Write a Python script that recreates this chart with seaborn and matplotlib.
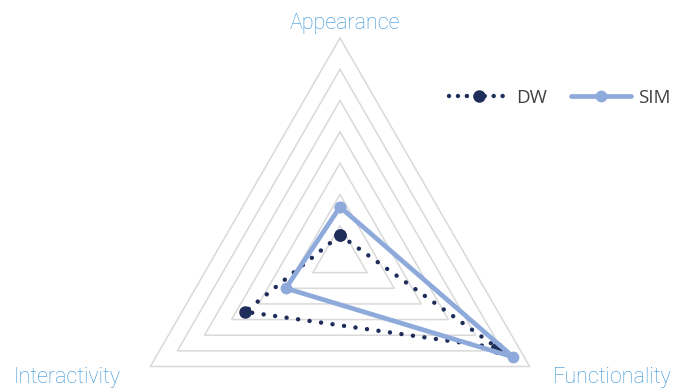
#!/usr/bin/env python3
"""radar chart: DW vs SIM"""

import numpy as np
import pandas as pd
import seaborn as sns
import matplotlib
matplotlib.use("Agg")
import matplotlib.pyplot as plt
from matplotlib.lines import Line2D

categories = ["Appearance", "Functionality", "Interactivity"]
dw_values = [0.7, 5.8, 3.5]
sim_values = [1.6, 6.4, 2.0]
grid_levels = [1, 2, 3, 4, 5, 6, 7]

DW_COLOR = "#1f2d5a"
SIM_COLOR = "#8eaadb"
LABEL_COLOR = "#3593d8"
GRID_COLOR = "#d9d9d9"

sns.set_theme(style="white")
plt.rcParams["font.family"] = ["Roboto", "DejaVu Sans"]

theta = np.linspace(0, 2 * np.pi, len(categories), endpoint=False)
theta_closed = np.append(theta, theta[0])


def closed(vals):
    return np.append(vals, vals[0])


df = pd.concat([
    pd.DataFrame({"theta": theta_closed, "value": closed(dw_values),
                  "series": "DW"}),
    pd.DataFrame({"theta": theta_closed, "value": closed(sim_values),
                  "series": "SIM"}),
])

fig = plt.figure(figsize=(6.76, 3.88), dpi=100)
W, H = 676, 388
cx, cy, R = 340, 257, 219
ax = fig.add_axes([(cx - R) / W, (H - cy - R) / H, 2 * R / W, 2 * R / H],
                  projection="polar")
ax.set_theta_offset(np.pi / 2)
ax.set_theta_direction(-1)
ax.grid(False)
ax.spines["polar"].set_visible(False)
ax.patch.set_visible(False)

# triangular grid
for lev in grid_levels:
    ax.plot(theta_closed, [lev] * 4, color=GRID_COLOR, lw=1.1,
            clip_on=False, zorder=1)

sns.lineplot(data=df[df.series == "DW"], x="theta", y="value", sort=False,
             estimator=None, color=DW_COLOR, lw=3.2, marker="o",
             markersize=9, markeredgewidth=0, ax=ax, zorder=3)
line_dw = ax.get_lines()[-1]
line_dw.set_linestyle((0, (0.01, 2.6)))
line_dw.set_dash_capstyle("round")
sns.lineplot(data=df[df.series == "SIM"], x="theta", y="value", sort=False,
             estimator=None, color=SIM_COLOR, lw=3.4, marker="o",
             markersize=8.5, markeredgewidth=0, ax=ax, zorder=4)
for ln in ax.get_lines()[-2:]:
    ln.set_clip_on(False)
ax.set_xlabel("")
ax.set_ylabel("")
ax.set_xticks([])
ax.set_yticks([])
ax.set_ylim(0, grid_levels[-1])

# axis labels
label_kw = dict(color=LABEL_COLOR, fontsize=15.5, fontweight="light")
fig.text(345 / W, 1 - 23 / H, categories[0], ha="center", va="center",
         **label_kw)
fig.text(672 / W, 1 - 377 / H, categories[1], ha="right", va="center",
         **label_kw)
fig.text(13 / W, 1 - 377 / H, categories[2], ha="left", va="center",
         **label_kw)

handles = [
    Line2D([], [], color=DW_COLOR, lw=3.2, ls=(0, (0.01, 2.0)),
           dash_capstyle="round", marker="o", markersize=9,
           markeredgewidth=0),
    Line2D([], [], color=SIM_COLOR, lw=3.4, marker="o", markersize=8.5,
           markeredgewidth=0),
]
fig.legend(handles, ["DW", "SIM"], loc="center right",
           bbox_to_anchor=(676 / W, 1 - 98 / H), ncol=2, frameon=False,
           handlelength=3.2, handletextpad=0.35, columnspacing=1.3,
           borderaxespad=0.2, borderpad=0.1,
           prop={"family": ["Open Sans", "DejaVu Sans"], "size": 13.5},
           labelcolor="#404040")

fig.savefig("out.png", dpi=100)
